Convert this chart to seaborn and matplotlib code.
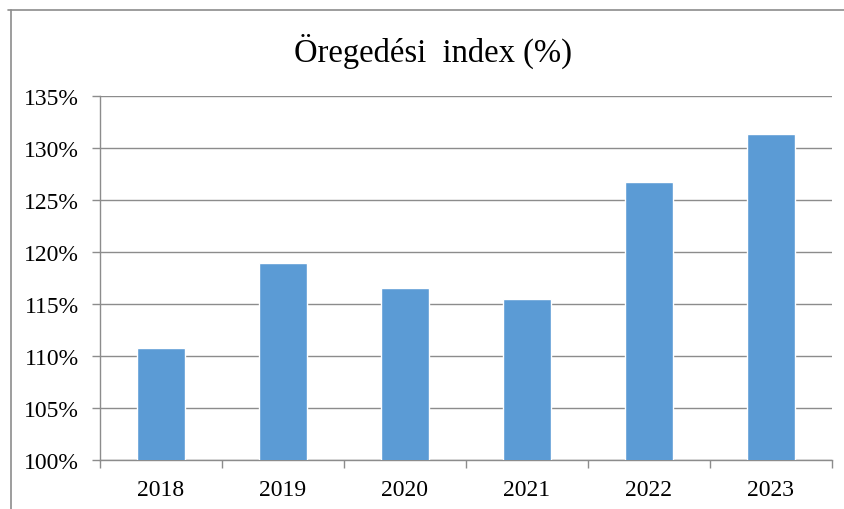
import matplotlib
matplotlib.use("Agg")
import matplotlib.pyplot as plt
import seaborn as sns
import pandas as pd
import numpy as np
from matplotlib.ticker import FuncFormatter, FixedLocator
from matplotlib.lines import Line2D

# data
years = ["2018", "2019", "2020", "2021", "2022", "2023"]
index_pct = [110.8, 118.9, 116.5, 115.5, 126.7, 131.3]
y_ticks = [100, 105, 110, 115, 120, 125, 130, 135]

df = pd.DataFrame({"year": years, "value": index_pct})

sns.set_theme(style="white")
plt.rcParams["font.family"] = ["Liberation Serif", "DejaVu Serif"]

fig = plt.figure(figsize=(8.45, 5.1), dpi=100)
ax = fig.add_axes([100 / 845, 49 / 510, 732 / 845, 364 / 510])

sns.barplot(data=df, x="year", y="value", color="#5B9BD5", width=0.4,
            saturation=1, ax=ax, zorder=3)

ax.set_ylim(100, 135)
ax.set_xlim(-0.5, 5.5)
ax.set_yticks(y_ticks)
ax.yaxis.set_major_formatter(FuncFormatter(lambda v, p: f"{v:.0f}%"))
ax.grid(axis="y", color="#8c8c8c", linewidth=1, zorder=0)
ax.set_axisbelow(True)
ax.set_xlabel("")
ax.set_ylabel("")

# category boundary ticks on x axis
ax.xaxis.set_minor_locator(FixedLocator(np.arange(-0.5, 6, 1)))
ax.tick_params(axis="x", which="major", length=0, pad=14, labelsize=17, labelcolor="black")
ax.tick_params(axis="x", which="minor", length=6, width=1, color="#8c8c8c", direction="out", bottom=True)
ax.tick_params(axis="y", length=6, width=1, color="#8c8c8c", direction="out", left=True,
               pad=9, labelsize=17, labelcolor="black")

for side in ["top", "right"]:
    ax.spines[side].set_visible(False)
for side in ["left", "bottom"]:
    ax.spines[side].set_color("#8c8c8c")
    ax.spines[side].set_linewidth(1)

fig.suptitle("Öregedési  index (%)", x=433 / 845, y=1 - 51 / 510, va="center",
             fontsize=23.5, color="black")

# chart area border (top and left edges visible)
fig.add_artist(Line2D([8 / 845, 1], [1 - 11 / 510, 1 - 11 / 510], color="#8c8c8c", lw=1.2,
                      transform=fig.transFigure))
fig.add_artist(Line2D([11 / 845, 11 / 845], [0, 1 - 11 / 510], color="#8c8c8c", lw=1.2,
                      transform=fig.transFigure))

fig.savefig("out.png", dpi=100)
